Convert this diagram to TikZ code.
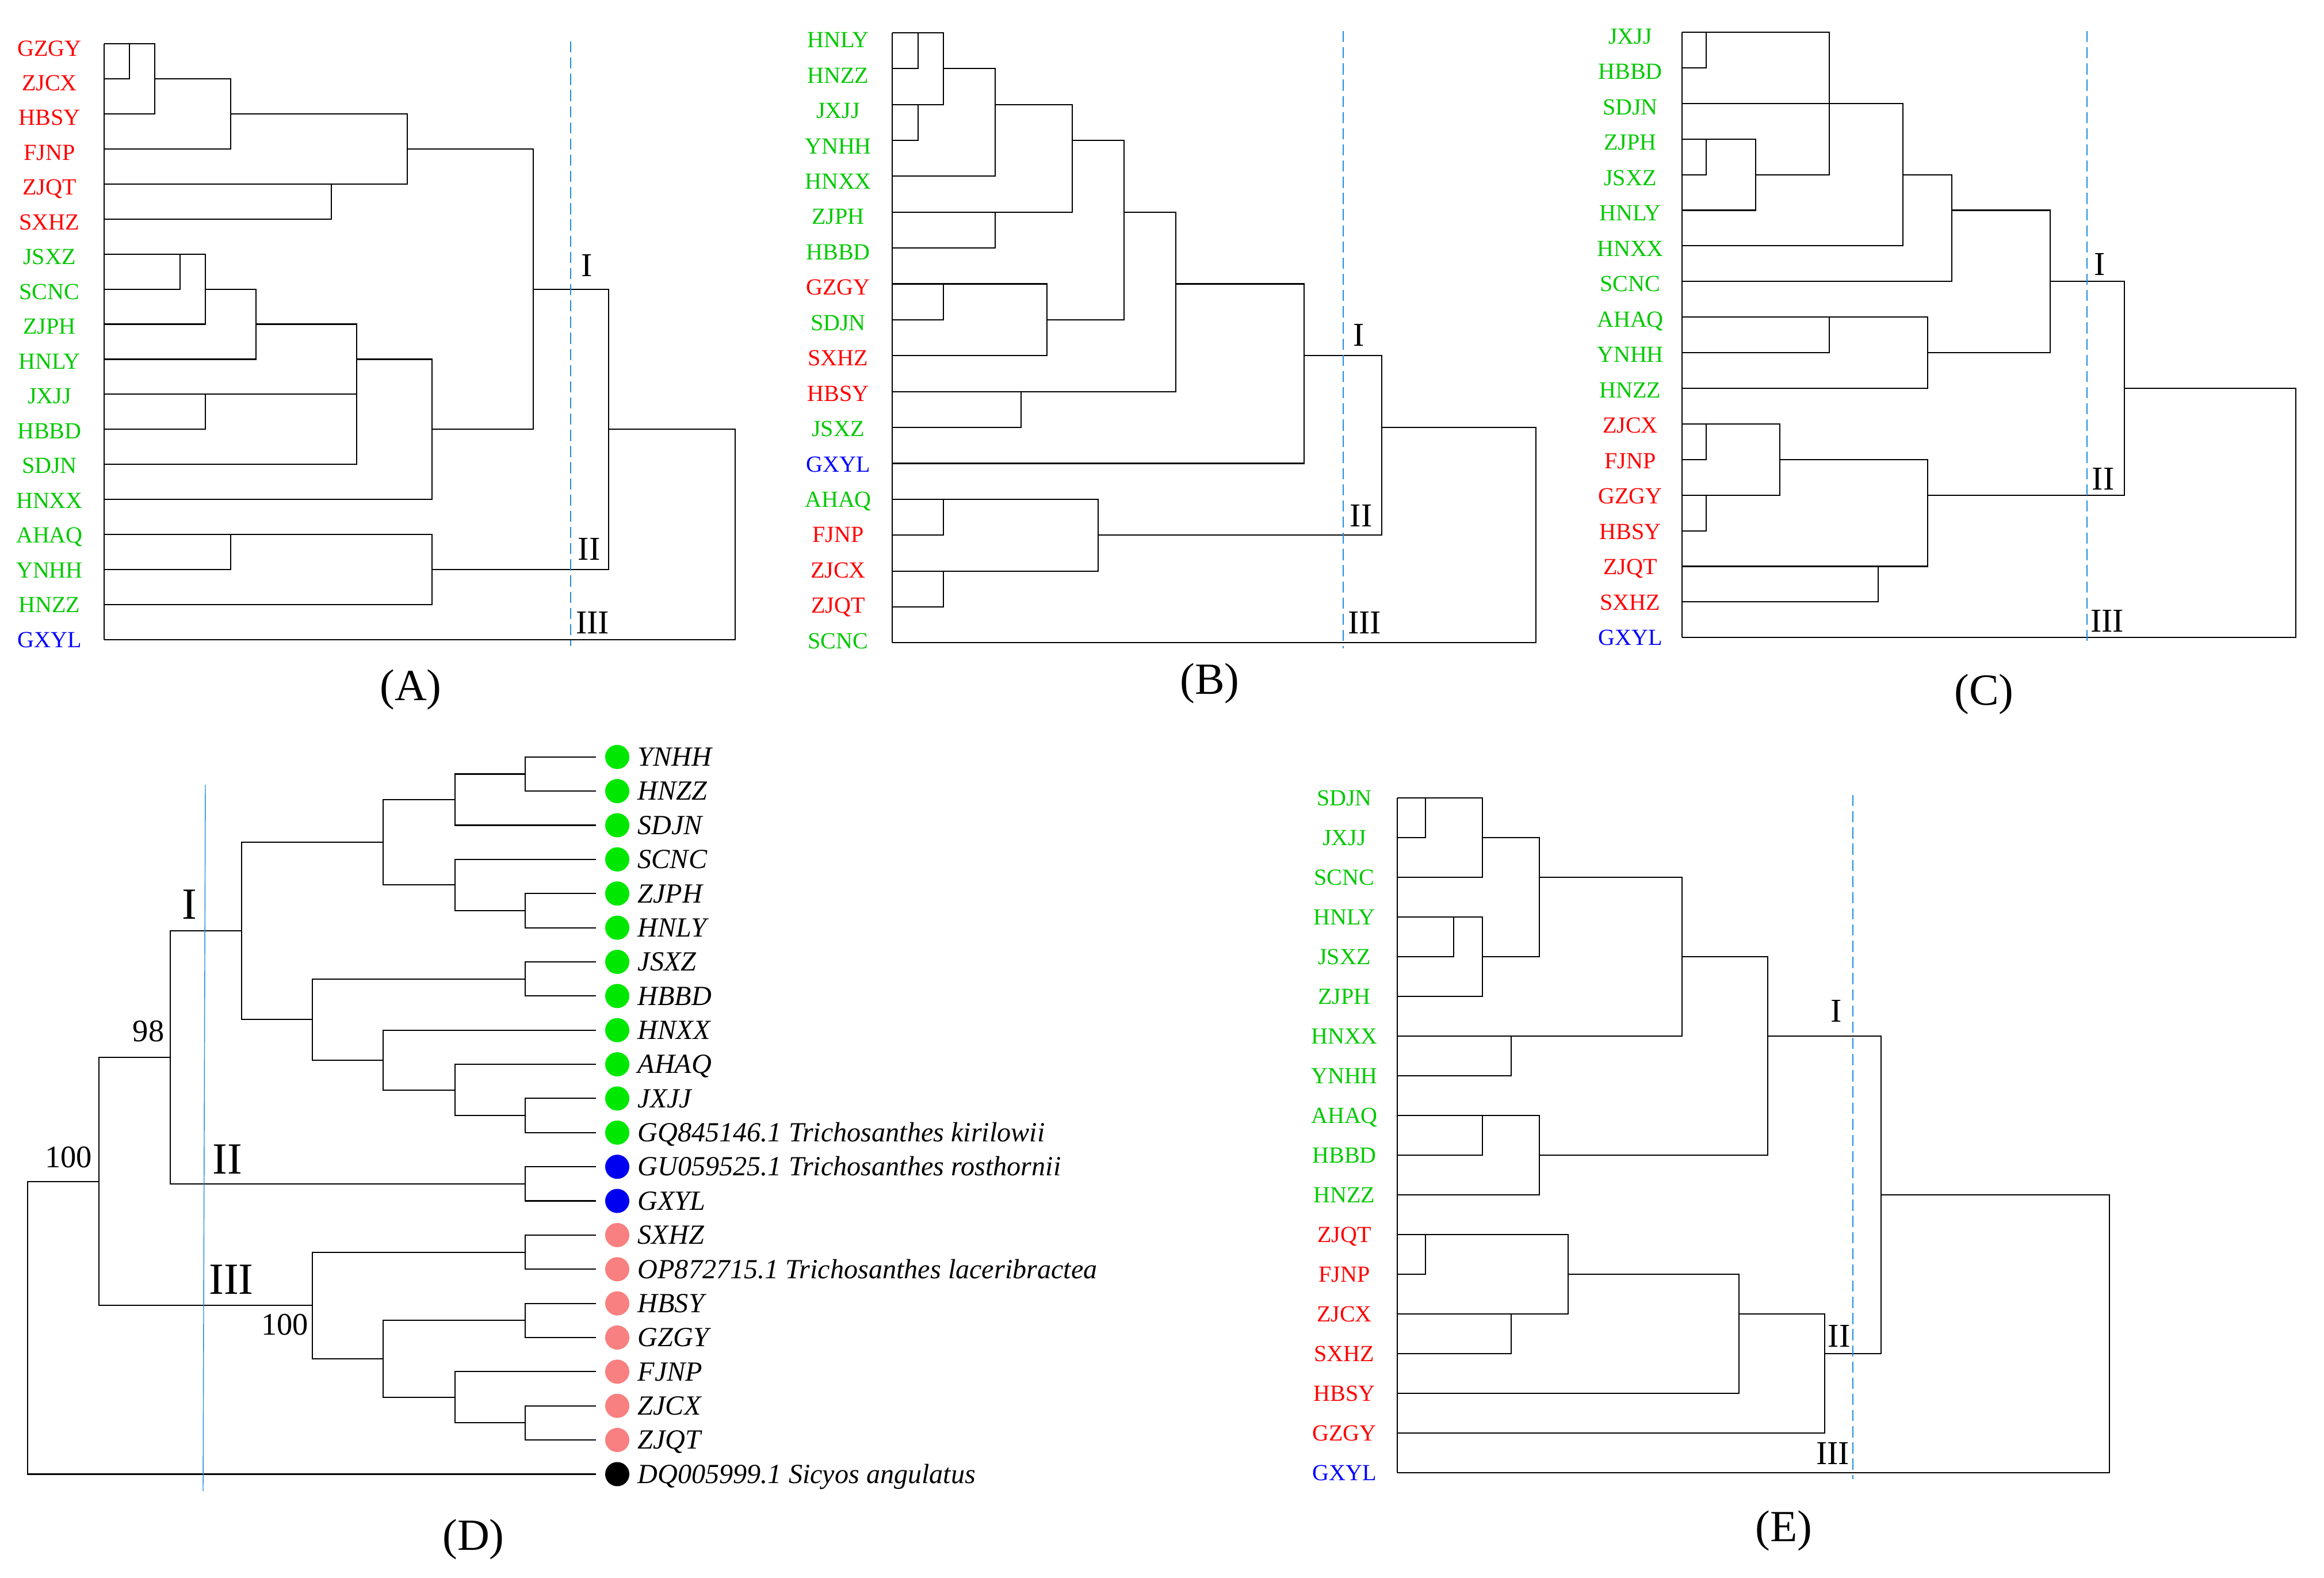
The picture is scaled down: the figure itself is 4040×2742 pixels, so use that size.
\documentclass[tikz,border=0pt]{standalone}
\usepackage{fontspec}
\setmainfont{Liberation Serif}
\usepackage{tikz}

\definecolor{labred}{RGB}{255,0,0}
\definecolor{labgreen}{RGB}{0,200,0}
\definecolor{labblue}{RGB}{0,0,255}
\definecolor{dotgreen}{RGB}{0,232,0}
\definecolor{dotblue}{RGB}{0,0,240}
\definecolor{dotpink}{RGB}{248,128,128}
\definecolor{cutblue}{RGB}{30,140,225}

\tikzstyle{link} = [line width=0.6pt]
\tikzstyle{cut} = [draw=cutblue, line width=0.6pt, dash pattern=on 5.5pt off 2.5pt]
\tikzstyle{leaf} = [font=\fontsize{11.4}{12}\selectfont, inner sep=0pt, anchor=base, yshift=-3.8pt]
\tikzstyle{taxon} = [font=\fontsize{13.7}{15}\selectfont\itshape, inner sep=0pt, anchor=base west, yshift=-4.5pt]
\tikzstyle{dot} = [circle, inner sep=0pt, minimum size=0.42cm]
\tikzstyle{clade} = [font=\fontsize{16.5}{18}\selectfont, inner sep=0pt]
\tikzstyle{boot} = [font=\fontsize{15.5}{17}\selectfont, inner sep=0pt]
\tikzstyle{panel} = [font=\fontsize{22}{24}\selectfont, inner sep=0pt]

\begin{document}
\begin{tikzpicture}[x=0.01cm, y=-0.01cm]
    \useasboundingbox (0,0) rectangle (4040,2742);

    % (A)
    \begin{scope}[y=-0.609cm, yshift=-0.76cm]
        \foreach \lab/\col [count=\i from 0] in {GZGY/labred, ZJCX/labred, HBSY/labred, FJNP/labred, ZJQT/labred, SXHZ/labred, JSXZ/labgreen, SCNC/labgreen, ZJPH/labgreen, HNLY/labgreen, JXJJ/labgreen, HBBD/labgreen, SDJN/labgreen, HNXX/labgreen, AHAQ/labgreen, YNHH/labgreen, HNZZ/labgreen, GXYL/labblue}
            \node[leaf, text=\col] (a\i) at (86,{0.125+0.9926*\i}) {\lab};
        \draw[link] (181,0) -- (181,17);
        \draw[link] (181,0) -| (225,1) -- (181,1);
        \draw[link] (181,0) -| (269,2) -- (181,2);
        \draw[link] (269,1) -| (401,3) -- (181,3);
        \draw[link] (401,2) -| (708,4) -- (181,4);
        \draw[link] (181,4) -| (576,5) -- (181,5);
        \draw[link] (708,3) -| (927,11) -- (751,11);
        \draw[link] (181,6) -| (313,7) -- (181,7);
        \draw[link] (181,6) -| (357,8) -- (181,8);
        \draw[link] (357,7) -| (445,9) -- (181,9);
        \draw[link] (181,10) -| (357,11) -- (181,11);
        \draw[link] (445,8) -| (620,12) -- (181,12);
        \draw[link] (181,10) -- (620,10);
        \draw[link] (620,9) -| (751,13) -- (181,13);
        \draw[link] (181,14) -| (401,15) -- (181,15);
        \draw[link] (181,14) -| (751,16) -- (181,16);
        \draw[link] (927,7) -| (1058,15) -- (751,15);
        \draw[link] (1058,11) -| (1278,17) -- (181,17);
    \end{scope}
    \draw[cut] (992,72) -- (992,1123);
    \node[clade] (aI) at (1020,461) {I};
    \node[clade] (aII) at (1024,954) {II};
    \node[clade] (aIII) at (1030,1082) {III};
    \node[panel] (capA) at (714,1199) {(A)};

    % (B)
    \begin{scope}[y=-0.6235cm, yshift=-0.568cm]
        \foreach \lab/\col [count=\i from 0] in {HNLY/labgreen, HNZZ/labgreen, JXJJ/labgreen, YNHH/labgreen, HNXX/labgreen, ZJPH/labgreen, HBBD/labgreen, GZGY/labred, SDJN/labgreen, SXHZ/labred, HBSY/labred, JSXZ/labgreen, GXYL/labblue, AHAQ/labgreen, FJNP/labred, ZJCX/labred, ZJQT/labred, SCNC/labgreen}
            \node[leaf, text=\col] (b\i) at (1457,{0.2+0.985*\i}) {\lab};
        \draw[link] (1551,0) -- (1551,17);
        \draw[link] (1551,0) -| (1596,1) -- (1551,1);
        \draw[link] (1551,0) -| (1640,2) -- (1551,2);
        \draw[link] (1551,2) -| (1596,3) -- (1551,3);
        \draw[link] (1640,1) -| (1730,4) -- (1551,4);
        \draw[link] (1730,2) -| (1864,5) -- (1551,5);
        \draw[link] (1551,5) -| (1730,6) -- (1551,6);
        \draw[link] (1864,3) -| (1954,8) -- (1820,8);
        \draw[link] (1551,7) -| (1640,8) -- (1551,8);
        \draw[link] (1551,7) -| (1820,9) -- (1551,9);
        \draw[link] (1954,5) -| (2044,10) -- (1551,10);
        \draw[link] (1551,10) -| (1775,11) -- (1551,11);
        \draw[link] (2044,7) -| (2267,12) -- (1551,12);
        \draw[link] (1551,13) -| (1640,14) -- (1551,14);
        \draw[link] (1551,13) -| (1909,15) -- (1551,15);
        \draw[link] (1551,15) -| (1640,16) -- (1551,16);
        \draw[link] (2267,9) -| (2402,14) -- (1909,14);
        \draw[link] (2402,11) -| (2670,17) -- (1551,17);
    \end{scope}
    \draw[cut] (2335,54) -- (2335,1127);
    \node[clade] (bI) at (2362,582) {I};
    \node[clade] (bII) at (2366,896) {II};
    \node[clade] (bIII) at (2372,1082) {III};
    \node[panel] (capB) at (2103,1188) {(B)};

    % (C)
    \begin{scope}[y=-0.6186cm, yshift=-0.56cm]
        \foreach \lab/\col [count=\i from 0] in {JXJJ/labgreen, HBBD/labgreen, SDJN/labgreen, ZJPH/labgreen, JSXZ/labgreen, HNLY/labgreen, HNXX/labgreen, SCNC/labgreen, AHAQ/labgreen, YNHH/labgreen, HNZZ/labgreen, ZJCX/labred, FJNP/labred, GZGY/labred, HBSY/labred, ZJQT/labred, SXHZ/labred, GXYL/labblue}
            \node[leaf, text=\col] (c\i) at (2834,{0.11+0.9935*\i}) {\lab};
        \draw[link] (2924,0) -- (2924,17);
        \draw[link] (2924,0) -| (2966,1) -- (2924,1);
        \draw[link] (2924,0) -| (3180,4) -- (3052,4);
        \draw[link] (2924,3) -| (2966,4) -- (2924,4);
        \draw[link] (2924,3) -| (3052,5) -- (2924,5);
        \draw[link] (2924,2) -| (3308,6) -- (2924,6);
        \draw[link] (3308,4) -| (3393,7) -- (2924,7);
        \draw[link] (3393,5) -| (3564,9) -- (3351,9);
        \draw[link] (2924,8) -| (3180,9) -- (2924,9);
        \draw[link] (2924,8) -| (3351,10) -- (2924,10);
        \draw[link] (3564,7) -| (3693,13) -- (3351,13);
        \draw[link] (2924,11) -| (2966,12) -- (2924,12);
        \draw[link] (2924,11) -| (3094,13) -- (2924,13);
        \draw[link] (2924,13) -| (2966,14) -- (2924,14);
        \draw[link] (3094,12) -| (3351,15) -- (2924,15);
        \draw[link] (2924,15) -| (3265,16) -- (2924,16);
        \draw[link] (3693,10) -| (3991,17) -- (2924,17);
    \end{scope}
    \draw[cut] (3628,54) -- (3628,1119);
    \node[clade] (cI) at (3650,459) {I};
    \node[clade] (cII) at (3656,832) {II};
    \node[clade] (cIII) at (3663,1079) {III};
    \node[panel] (capC) at (3449,1207) {(C)};

    % (D) tree
    \begin{scope}[y=-0.5933cm, yshift=-13.15cm]
        \foreach \txt/\col [count=\i from 0] in {YNHH/dotgreen, HNZZ/dotgreen, SDJN/dotgreen, SCNC/dotgreen, ZJPH/dotgreen, HNLY/dotgreen, JSXZ/dotgreen, HBBD/dotgreen, HNXX/dotgreen, AHAQ/dotgreen, JXJJ/dotgreen, GQ845146.1 Trichosanthes kirilowii/dotgreen, GU059525.1 Trichosanthes rosthornii/dotblue, GXYL/dotblue, SXHZ/dotpink, OP872715.1 Trichosanthes laceribractea/dotpink, HBSY/dotpink, GZGY/dotpink, FJNP/dotpink, ZJCX/dotpink, ZJQT/dotpink, DQ005999.1 Sicyos angulatus/black} {
            \coordinate (t\i) at (1036,\i);
            \node[dot, fill=\col] (d\i) at (1073,\i) {};
            \node[taxon] (n\i) at (1108,\i) {\txt};
        }
        \coordinate (c1) at (913,0.5);
        \coordinate (c2) at (791,1.25);
        \coordinate (c3) at (913,4.5);
        \coordinate (c4) at (791,3.75);
        \coordinate (c5) at (666,2.5);
        \coordinate (c6) at (913,6.5);
        \coordinate (c7) at (913,10.5);
        \coordinate (c8) at (791,9.75);
        \coordinate (c9) at (666,8.875);
        \coordinate (c10) at (543,7.6875);
        \coordinate (kI) at (420,5.094);
        \coordinate (kII) at (913,12.5);
        \coordinate (c13) at (296,8.797);
        \coordinate (c14) at (913,14.5);
        \coordinate (c15) at (913,16.5);
        \coordinate (c16) at (913,19.5);
        \coordinate (c17) at (791,18.75);
        \coordinate (c18) at (666,17.625);
        \coordinate (kIII) at (543,16.06);
        \coordinate (c20) at (172,12.43);
        \coordinate (root) at (48,16.71);

        \draw[link] (t0) -| (c1) |- (t1);
        \draw[link] (c1) -| (c2) |- (t2);
        \draw[link] (t4) -| (c3) |- (t5);
        \draw[link] (t3) -| (c4) |- (c3);
        \draw[link] (c2) -| (c5) |- (c4);
        \draw[link] (t6) -| (c6) |- (t7);
        \draw[link] (t10) -| (c7) |- (t11);
        \draw[link] (t9) -| (c8) |- (c7);
        \draw[link] (t8) -| (c9) |- (c8);
        \draw[link] (c6) -| (c10) |- (c9);
        \draw[link] (c5) -| (kI) |- (c10);
        \draw[link] (t12) -| (kII) |- (t13);
        \draw[link] (kI) -| (c13) |- (kII);
        \draw[link] (t14) -| (c14) |- (t15);
        \draw[link] (t16) -| (c15) |- (t17);
        \draw[link] (t19) -| (c16) |- (t20);
        \draw[link] (t18) -| (c17) |- (c16);
        \draw[link] (c15) -| (c18) |- (c17);
        \draw[link] (c14) -| (kIII) |- (c18);
        \draw[link] (c13) -| (c20) |- (kIII);
        \draw[link] (c20) -| (root) |- (t21);
    \end{scope}
    \draw[cutblue, line width=0.4pt] (357,1364) -- (353,2592);
    \node[font=\fontsize{22}{24}\selectfont, inner sep=0pt] (dI) at (329,1572) {I};
    \node[font=\fontsize{22}{24}\selectfont, inner sep=0pt] (dII) at (395,2015) {II};
    \node[font=\fontsize{22}{24}\selectfont, inner sep=0pt] (dIII) at (402,2224) {III};
    \node[boot] (b98) at (258,1793) {98};
    \node[boot] (b100a) at (119,2012) {100};
    \node[boot] (b100b) at (495,2303) {100};
    \node[panel] (capD) at (823,2676) {(D)};

    % (E)
    \begin{scope}[y=-0.6892cm, yshift=-13.866cm]
        \foreach \lab/\col [count=\i from 0] in {SDJN/labgreen, JXJJ/labgreen, SCNC/labgreen, HNLY/labgreen, JSXZ/labgreen, ZJPH/labgreen, HNXX/labgreen, YNHH/labgreen, AHAQ/labgreen, HBBD/labgreen, HNZZ/labgreen, ZJQT/labred, FJNP/labred, ZJCX/labred, SXHZ/labred, HBSY/labred, GZGY/labred, GXYL/labblue}
            \node[leaf, text=\col] (e\i) at (2337,\i) {\lab};
        \draw[link] (2429,0) -- (2429,17);
        \draw[link] (2429,0) -| (2478,1) -- (2429,1);
        \draw[link] (2429,0) -| (2577,2) -- (2429,2);
        \draw[link] (2577,1) -| (2676,4) -- (2577,4);
        \draw[link] (2429,3) -| (2527,4) -- (2429,4);
        \draw[link] (2429,3) -| (2577,5) -- (2429,5);
        \draw[link] (2676,2) -| (2924,6) -- (2429,6);
        \draw[link] (2429,6) -| (2627,7) -- (2429,7);
        \draw[link] (2924,4) -| (3073,9) -- (2676,9);
        \draw[link] (2429,8) -| (2577,9) -- (2429,9);
        \draw[link] (2429,8) -| (2676,10) -- (2429,10);
        \draw[link] (3073,6) -| (3270,14) -- (3172,14);
        \draw[link] (2429,11) -| (2478,12) -- (2429,12);
        \draw[link] (2429,11) -| (2726,13) -- (2429,13);
        \draw[link] (2429,13) -| (2627,14) -- (2429,14);
        \draw[link] (2726,12) -| (3023,15) -- (2429,15);
        \draw[link] (3023,13) -| (3172,16) -- (2429,16);
        \draw[link] (3270,10) -| (3667,17) -- (2429,17);
    \end{scope}
    \draw[cut] (3221,1382) -- (3221,2571);
    \node[clade] (eI) at (3192,1757) {I};
    \node[clade] (eII) at (3197,2322) {II};
    \node[clade] (eIII) at (3186,2526) {III};
    \node[panel] (capE) at (3101,2661) {(E)};
\end{tikzpicture}
\end{document}
